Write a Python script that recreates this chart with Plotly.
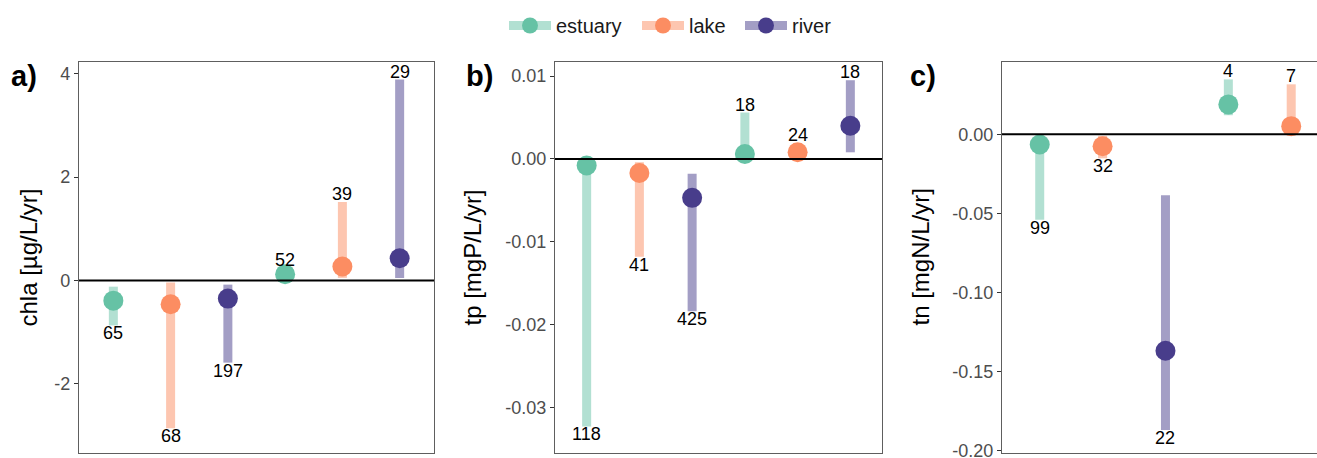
import plotly.graph_objects as go

W, H = 1317, 458

groups = ["estuary", "lake", "river"]
point_colors = {"estuary": "#66c2a5", "lake": "#fc8d62", "river": "#483d8b"}
bar_colors = {"estuary": "rgba(102,194,165,0.5)",
              "lake": "rgba(252,141,98,0.5)",
              "river": "rgba(72,61,139,0.5)"}
legend_widths = {"estuary": 76, "lake": 46, "river": 46}

# ---- panel a) chla ----
a_pos = [1, 2, 3, 4, 5, 6]
a_group = ["estuary", "lake", "river", "estuary", "lake", "river"]
a_est = [-0.39, -0.46, -0.35, 0.12, 0.27, 0.43]
a_lo = [-0.87, -2.86, -1.59, 0.03, 0.05, 0.05]
a_hi = [-0.12, -0.04, -0.08, 0.25, 1.52, 3.89]
a_n = [65, 68, 197, 52, 39, 29]
a_ticks = [-2, 0, 2, 4]
a_ticktext = ["-2", "0", "2", "4"]

# ---- panel b) tp ----
b_pos = [1, 2, 3, 4, 5, 6]
b_group = ["estuary", "lake", "river", "estuary", "lake", "river"]
b_est = [-0.0008, -0.0017, -0.0047, 0.0006, 0.0008, 0.0040]
b_lo = [-0.0323, -0.0118, -0.0184, 0.0001, 0.0002, 0.0008]
b_hi = [-0.0001, -0.0004, -0.0018, 0.0056, 0.0019, 0.0095]
b_n = [118, 41, 425, 18, 24, 18]
b_ticks = [-0.03, -0.02, -0.01, 0.0, 0.01]
b_ticktext = ["-0.03", "-0.02", "-0.01", "0.00", "0.01"]

# ---- panel c) tn ----
c_pos = [1, 2, 3, 4, 5]
c_group = ["estuary", "lake", "river", "estuary", "lake"]
c_est = [-0.0065, -0.0076, -0.1367, 0.0188, 0.0051]
c_lo = [-0.054, -0.0152, -0.1867, 0.012, -0.001]
c_hi = [-0.001, -0.001, -0.0386, 0.0346, 0.0315]
c_n = [99, 32, 22, 4, 7]
c_ticks = [-0.20, -0.15, -0.10, -0.05, 0.0]
c_ticktext = ["-0.20", "-0.15", "-0.10", "-0.05", "0.00"]

panels = [
    dict(pos=a_pos, grp=a_group, est=a_est, lo=a_lo, hi=a_hi, n=a_n,
         ticks=a_ticks, ticktext=a_ticktext, yr=[-3.34, 4.23], xr=[0.4, 6.6],
         dom=[79, 434], title="chla [µg/L/yr]", title_x=28, label="a)", label_x=24, ax=""),
    dict(pos=b_pos, grp=b_group, est=b_est, lo=b_lo, hi=b_hi, n=b_n,
         ticks=b_ticks, ticktext=b_ticktext, yr=[-0.0355, 0.0117], xr=[0.4, 6.6],
         dom=[555, 882], title="tp [mgP/L/yr]", title_x=472, label="b)", label_x=479, ax="2"),
    dict(pos=c_pos, grp=c_group, est=c_est, lo=c_lo, hi=c_hi, n=c_n,
         ticks=c_ticks, ticktext=c_ticktext, yr=[-0.2013, 0.0456], xr=[0.4, 5.41],
         dom=[1002, 1317], title="tn [mgN/L/yr]", title_x=920, label="c)", label_x=923, ax="3"),
]

FONT = "Liberation Sans, Arial, sans-serif"
plot_top, plot_bot = 62, 453
ydom = [(H - plot_bot) / H, (H - plot_top) / H]

fig = go.Figure()
annotations = []
shapes = []
layout_axes = {}

for i, p in enumerate(panels):
    xa = "x" + p["ax"]
    ya = "y" + p["ax"]
    for g in groups:
        idx = [k for k, gg in enumerate(p["grp"]) if gg == g]
        if not idx:
            continue
        xs = [p["pos"][k] for k in idx]
        ys = [p["est"][k] for k in idx]
        up = [p["hi"][k] - p["est"][k] for k in idx]
        dn = [p["est"][k] - p["lo"][k] for k in idx]
        fig.add_trace(go.Scatter(
            x=xs, y=ys, mode="markers", xaxis=xa, yaxis=ya,
            marker=dict(size=20, color=point_colors[g]),
            error_y=dict(type="data", symmetric=False, array=up, arrayminus=dn,
                         thickness=9, width=0, color=bar_colors[g]),
            showlegend=False, hoverinfo="skip"))
    for k in range(len(p["pos"])):
        neg = p["est"][k] < 0
        annotations.append(dict(
            x=p["pos"][k], y=p["lo"][k] if neg else p["hi"][k],
            xref=xa, yref=ya, text=str(p["n"][k]), showarrow=False,
            yanchor="middle", xanchor="center", yshift=-8 if neg else 8,
            font=dict(size=18, color="#000000", family=FONT)))
    shapes.append(dict(type="line", xref=xa + " domain", yref=ya,
                       x0=0, x1=1, y0=0, y1=0, layer="above",
                       line=dict(color="#000000", width=2)))
    annotations.append(dict(x=p["title_x"] / W, y=1 - (plot_top + plot_bot) / 2 / H,
                            xref="paper", yref="paper", text=p["title"], textangle=-90,
                            showarrow=False, xanchor="center", yanchor="middle",
                            font=dict(size=24, color="#000000", family=FONT)))
    annotations.append(dict(x=p["label_x"] / W, y=1 - 76 / H,
                            xref="paper", yref="paper", text="<b>" + p["label"] + "</b>",
                            showarrow=False, xanchor="center", yanchor="middle",
                            font=dict(size=29, color="#000000", family=FONT)))
    xkey = "xaxis" + p["ax"]
    ykey = "yaxis" + p["ax"]
    layout_axes[xkey] = dict(domain=[p["dom"][0] / W, min(p["dom"][1] / W, 1.0)],
                             range=p["xr"], anchor=ya, showticklabels=False, ticks="",
                             showgrid=False, zeroline=False, showline=True, mirror=True,
                             linecolor="#5e5e5e", linewidth=1.3, automargin=False,
                             fixedrange=True)
    layout_axes[ykey] = dict(domain=ydom, range=p["yr"], anchor=xa,
                             tickvals=p["ticks"], ticktext=p["ticktext"],
                             ticks="outside", ticklen=4, tickwidth=1.2, tickcolor="#333333",
                             tickfont=dict(size=18, color="#4d4d4d", family=FONT),
                             ticklabeloverflow="allow",
                             showgrid=False, zeroline=False, showline=True,
                             mirror=(p["ax"] != "3"),
                             linecolor="#5e5e5e", linewidth=1.3, automargin=False,
                             fixedrange=True)

# legend entries
for g in groups:
    fig.add_trace(go.Scatter(
        x=[None], y=[None], mode="lines+markers", name=g,
        line=dict(color=bar_colors[g], width=9),
        marker=dict(size=20, color=point_colors[g]),
        legendwidth=legend_widths[g],
        showlegend=True))

fig.update_layout(
    width=W, height=H, autosize=False,
    margin=dict(l=0, r=0, t=0, b=0),
    paper_bgcolor="white", plot_bgcolor="white",
    font=dict(family=FONT, color="#000000"),
    showlegend=True,
    legend=dict(orientation="h", x=504 / W, xanchor="left", y=1 - 6 / H, yanchor="top",
                font=dict(size=20, color="#1a1a1a", family=FONT),
                bgcolor="rgba(0,0,0,0)", itemwidth=42),
    annotations=annotations,
    shapes=shapes,
    **layout_axes,
)

fig.write_html("out.html")
